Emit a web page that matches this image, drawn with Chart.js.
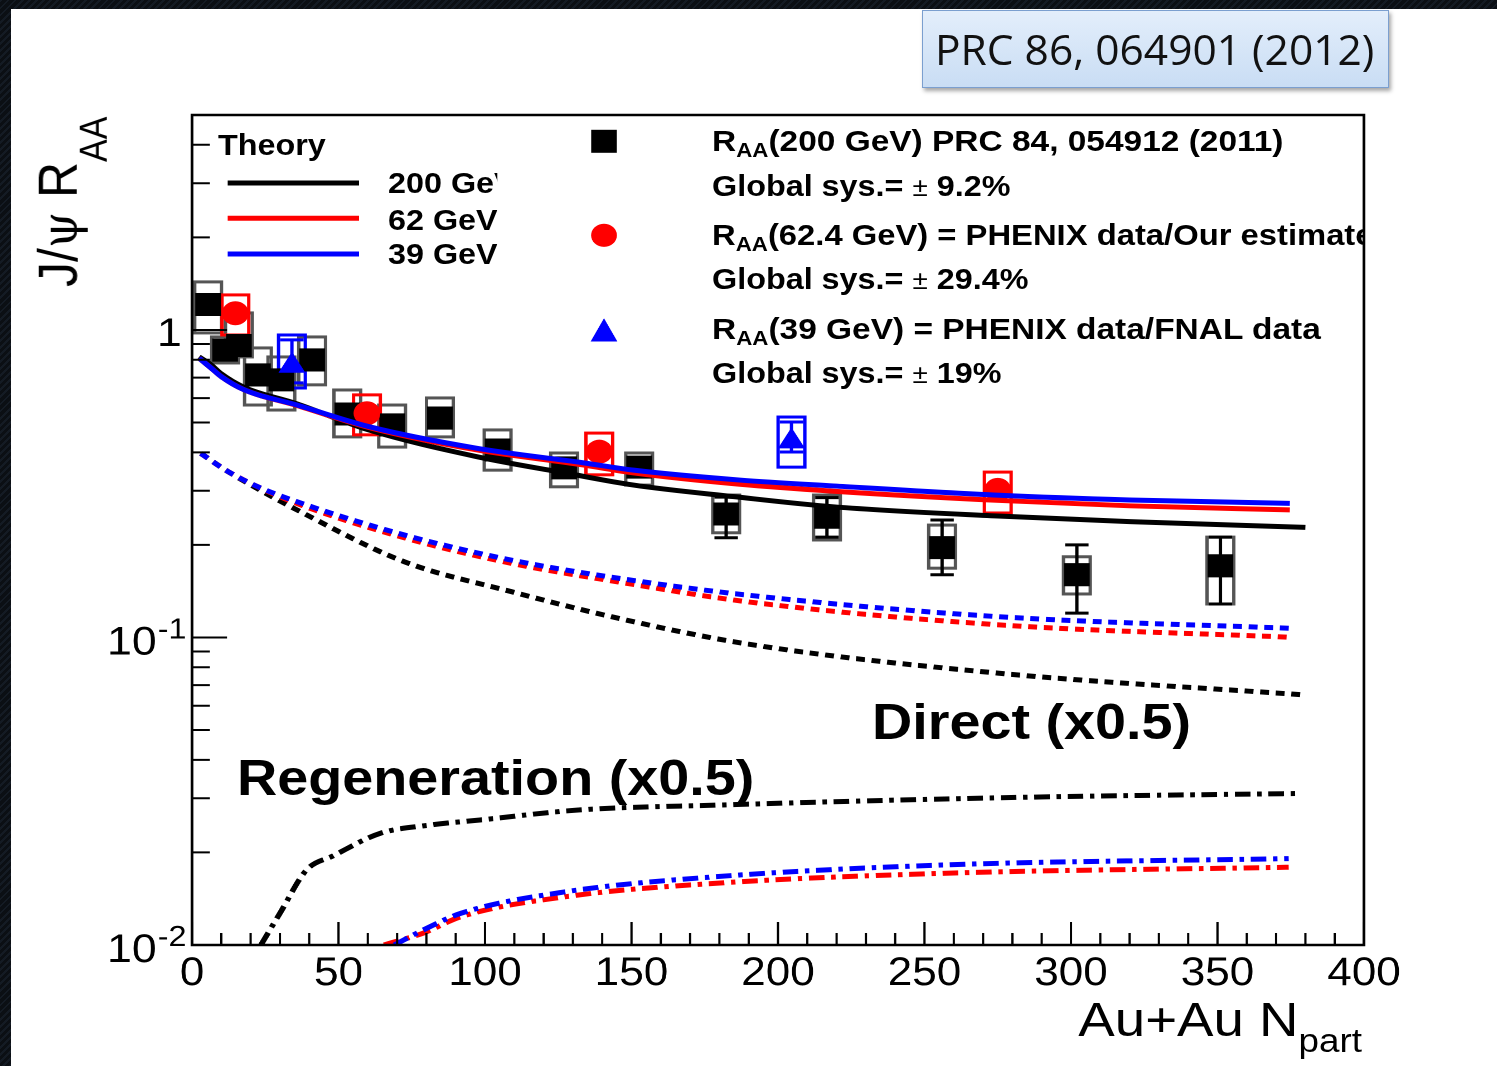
<!DOCTYPE html>
<html><head><meta charset="utf-8">
<script src="https://cdn.jsdelivr.net/npm/chart.js@4.4.1/dist/chart.umd.min.js"></script>
<style>
html,body{margin:0;padding:0;width:1497px;height:1066px;overflow:hidden;
  background:#0e1319 repeating-linear-gradient(135deg,#141b24 0 2px,#0b0f14 2px 5px);}
#panel{position:absolute;left:11px;top:9px;right:0;bottom:0;background:#fff;}
#wrap{position:absolute;left:0;top:0;width:1343px;height:1066px;transform:scaleX(1.115);transform-origin:0 0;}
#c{position:absolute;left:0;top:0;}
.t{position:absolute;white-space:nowrap;font-family:"Liberation Sans",Arial,Helvetica,sans-serif;color:#000;}
.b29{font-weight:bold;font-size:29px;line-height:29px;}
.b30{font-weight:bold;font-size:30px;line-height:29px;}
.sub{position:relative;line-height:0;}
.pm{font-weight:normal;font-size:25px;}
#ref{position:absolute;left:922px;top:10px;width:465px;height:76px;border:1.5px solid #7b9fcf;
  background:linear-gradient(#e3eefb,#c9ddf4);box-shadow:2px 3px 4px rgba(0,0,0,0.35);
  font-family:"Open Sans","Noto Sans",sans-serif;font-size:42.5px;line-height:76px;color:#111;box-sizing:content-box;}
#ref span{position:absolute;left:12px;top:0;}
</style></head>
<body>
<div id="panel"></div>
<div id="wrap">
  <canvas id="c" width="1343" height="1066"></canvas>
  <div class="t b29" style="left:195.5px;top:130.8px;">Theory</div>
  <div style="position:absolute;left:348px;top:0;width:98px;height:300px;overflow:hidden;">
    <div class="t b29" style="left:0;top:168.8px;">200 GeV</div>
    <div class="t b29" style="left:0;top:205.5px;">62 GeV</div>
    <div class="t b29" style="left:0;top:239.8px;">39 GeV</div>
  </div>
  <div style="position:absolute;left:638.6px;top:0;width:585.5px;height:420px;overflow:hidden;">
    <div class="t b30" style="left:0;top:125.5px;">R<span class="sub" style="font-size:20px;top:6px;">AA</span>(200 GeV) PRC 84, 054912 (2011)</div>
    <div class="t b29" style="left:0;top:171.8px;">Global sys.= <span class="pm">±</span> 9.2%</div>
    <div class="t b30" style="left:0;top:219.5px;font-size:29.4px;">R<span class="sub" style="font-size:20px;top:6px;">AA</span>(62.4 GeV) = PHENIX data/Our estimate</div>
    <div class="t b29" style="left:0;top:264.8px;">Global sys.= <span class="pm">±</span> 29.4%</div>
    <div class="t b30" style="left:0;top:313.8px;">R<span class="sub" style="font-size:20px;top:6px;">AA</span>(39 GeV) = PHENIX data/FNAL data</div>
    <div class="t b29" style="left:0;top:359.3px;">Global sys.= <span class="pm">±</span> 19%</div>
  </div>
  <div class="t" style="left:782px;top:698px;font-weight:bold;font-size:50px;line-height:49px;">Direct (x0.5)</div>
  <div class="t" style="left:212.5px;top:753.5px;font-weight:bold;font-size:50px;line-height:49px;">Regeneration (x0.5)</div>
  <div class="t" style="right:121.5px;top:995.2px;font-size:49px;line-height:49px;">Au+Au N<span class="sub" style="font-size:33px;top:16px;">part</span></div>
  <div class="t" style="left:26.7px;top:287px;font-size:50px;line-height:50px;transform-origin:0 0;transform:rotate(-90deg);">J/<span style="font-family:'DejaVu Serif',serif;font-size:46px;">ψ</span> R<span class="sub" style="font-size:34px;top:27px;">AA</span></div>
</div>
<div id="ref"><span>PRC 86, 064901 (2012)</span></div>
<script>
// ---------- data ----------
// PHENIX 200 GeV (black squares)
const npart200 = [5.5, 11.3, 16, 22.5, 30.5, 41, 53, 68.3, 84.6, 104.3, 127, 152.6, 182.3, 216.7, 256, 302, 351];
const raa200   = [1.21, 0.86, 0.89, 0.714, 0.688, 0.799, 0.533, 0.491, 0.517, 0.407, 0.356, 0.358, 0.252, 0.246, 0.196, 0.160, 0.171];
const stat200Lo = [1.16, 0.82, 0.85, 0.68, 0.655, 0.765, 0.51, 0.47, 0.495, 0.39, 0.335, 0.337, 0.211, 0.212, 0.160, 0.120, 0.1285];
const stat200Hi = [1.26, 0.90, 0.93, 0.75, 0.72, 0.835, 0.556, 0.512, 0.54, 0.425, 0.377, 0.379, 0.286, 0.285, 0.241, 0.200, 0.212];
const sys200Lo = [0.978, 0.781, 0.817, 0.570, 0.549, 0.663, 0.449, 0.416, 0.449, 0.350, 0.309, 0.313, 0.219, 0.2075, 0.168, 0.1385, 0.1285];
const sys200Hi = [1.433, 0.949, 1.136, 0.874, 0.817, 0.949, 0.638, 0.570, 0.601, 0.473, 0.398, 0.398, 0.2905, 0.2905, 0.232, 0.183, 0.212];
// 62.4 GeV (red circles)
const npart62 = [14.8, 59.7, 139, 275];
const raa62   = [1.133, 0.536, 0.402, 0.302];
const sys62Lo = [0.963, 0.456, 0.338, 0.254];
const sys62Hi = [1.30, 0.615, 0.462, 0.345];
// 39 GeV (blue triangles)
const npart39 = [34.1, 204.6];
const raa39   = [0.765, 0.434];
const stat39Lo = [0.673, 0.401];
const stat39Hi = [0.928, 0.502];
const sys39Lo = [0.6475, 0.358];
const sys39Hi = [0.963, 0.521];
// Theory total (solid)
const tot200X = [2.4, 6.5, 10, 17.6, 35.8, 60.3, 96.8, 127.9, 150.7, 185, 219, 276, 320, 380];
const tot200Y = [0.817, 0.77, 0.72, 0.652, 0.575, 0.473, 0.388, 0.342, 0.313, 0.287, 0.266, 0.248, 0.238, 0.228];
const tot62X = [2.4, 6.5, 10, 17.6, 35.8, 60.3, 96.8, 133.4, 150.7, 187, 219, 275.5, 320, 374.7];
const tot62Y = [0.81, 0.752, 0.705, 0.64, 0.568, 0.482, 0.408, 0.364, 0.343, 0.315, 0.299, 0.279, 0.268, 0.26];
const tot39X = [2.4, 6.5, 10, 17.6, 35.8, 60.3, 96.8, 133.4, 150.7, 187, 219, 275.5, 320, 374.7];
const tot39Y = [0.81, 0.752, 0.705, 0.64, 0.57, 0.485, 0.413, 0.37, 0.35, 0.325, 0.311, 0.29, 0.28, 0.273];
// Direct (x0.5), dotted
const dir200X = [3, 11.5, 21.2, 35.8, 72.4, 108.9, 145.6, 189.4, 275.5, 380];
const dir200Y = [0.397, 0.35, 0.309, 0.26, 0.1764, 0.141, 0.1154, 0.0953, 0.0765, 0.065];
const dir62X = [3, 11.5, 21.2, 35.8, 72.4, 108.9, 145.6, 189.4, 275.5, 374.7];
const dir62Y = [0.397, 0.35, 0.313, 0.2727, 0.211, 0.1743, 0.1515, 0.1307, 0.1099, 0.1002];
const dir39X = [3, 11.5, 21.2, 35.8, 72.4, 108.9, 145.6, 189.4, 275.5, 374.7];
const dir39Y = [0.397, 0.35, 0.313, 0.2764, 0.2155, 0.1786, 0.1558, 0.1374, 0.1168, 0.1071];
// Regeneration (x0.5), dash-dot
const reg200X = [23.5, 30, 39.1, 48.2, 64.2, 81.2, 98.3, 132.4, 179, 281.8, 378];
const reg200Y = [0.0100, 0.01268, 0.01754, 0.0195, 0.02307, 0.02455, 0.0255, 0.0275, 0.0285, 0.0302, 0.0311];
const reg62X = [65.5, 79, 91.8, 127.6, 179, 256, 374.3];
const reg62Y = [0.0100, 0.01094, 0.01236, 0.01436, 0.01588, 0.0171, 0.0179];
const reg39X = [69, 79, 91.8, 127.6, 179, 256, 374.3];
const reg39Y = [0.0100, 0.0112, 0.01268, 0.0149, 0.01668, 0.0182, 0.0191];
// axis tick labels
const xTickValues = [0, 50, 100, 150, 200, 250, 300, 350, 400];
const xTickLabels = ['0', '50', '100', '150', '200', '250', '300', '350', '400'];
const yTickValues = [0.01, 0.1, 1];
const yTickBase = ['10', '10', '1'];
const yTickExp = ['-2', '-1', ''];

// ---------- helpers ----------
const pts = (xs, ys) => xs.map((x, i) => ({x: x, y: ys[i]}));
const curve = (xs, ys, color, dash) => ({
  data: pts(xs, ys), showLine: true, borderColor: color, borderWidth: 5,
  borderDash: dash, pointRadius: 0, fill: false, cubicInterpolationMode: 'monotone'
});
const DOT = [8, 6], DASHDOT = [14, 6, 4, 6];
const BOX_HALF = 12, CAP_HALF = 10.5;

const overlay = {
  id: 'overlay',
  beforeDatasetsDraw(chart) {
    const {ctx, chartArea: ca} = chart;
    const xs = chart.scales.x, ys = chart.scales.y;
    ctx.save();
    ctx.beginPath(); ctx.rect(ca.left, ca.top, ca.right - ca.left, ca.bottom - ca.top); ctx.clip();
    const boxes = (X, lo, hi, col) => {
      ctx.strokeStyle = col; ctx.lineWidth = 3;
      X.forEach((v, i) => {
        const px = xs.getPixelForValue(v);
        const t = ys.getPixelForValue(hi[i]), b = ys.getPixelForValue(lo[i]);
        ctx.strokeRect(px - BOX_HALF, t, 2 * BOX_HALF, b - t);
      });
    };
    const bars = (X, lo, hi, col) => {
      ctx.strokeStyle = col; ctx.lineWidth = 3;
      X.forEach((v, i) => {
        const px = xs.getPixelForValue(v);
        const t = ys.getPixelForValue(hi[i]), b = ys.getPixelForValue(lo[i]);
        ctx.beginPath();
        ctx.moveTo(px, t); ctx.lineTo(px, b);
        ctx.moveTo(px - CAP_HALF, t); ctx.lineTo(px + CAP_HALF, t);
        ctx.moveTo(px - CAP_HALF, b); ctx.lineTo(px + CAP_HALF, b);
        ctx.stroke();
      });
    };
    boxes(npart200, sys200Lo, sys200Hi, '#555555');
    bars(npart200, stat200Lo, stat200Hi, '#000000');
    boxes(npart62, sys62Lo, sys62Hi, '#ff0000');
    boxes(npart39, sys39Lo, sys39Hi, '#0000ff');
    bars(npart39, stat39Lo, stat39Hi, '#0000ff');
    ctx.restore();
  },
  afterDraw(chart) {
    const {ctx, chartArea: ca} = chart;
    const xs = chart.scales.x, ys = chart.scales.y;
    ctx.save();
    // frame
    ctx.strokeStyle = '#000'; ctx.lineWidth = 2.5;
    ctx.strokeRect(ca.left, ca.top, ca.right - ca.left, ca.bottom - ca.top);
    // x ticks (inside)
    ctx.lineWidth = 2;
    ctx.beginPath();
    for (let v = 0; v <= 400; v += 10) {
      const px = xs.getPixelForValue(v);
      const len = (v % 50 === 0) ? 23 : 12;
      ctx.moveTo(px, ca.bottom); ctx.lineTo(px, ca.bottom - len);
    }
    // y ticks (inside)
    for (let d = 0.01; d < 5; d *= 10) {
      for (let m = 1; m <= 9; m++) {
        const v = d * m;
        if (v > 5.0001) break;
        const py = ys.getPixelForValue(v);
        const len = (m === 1) ? 31.4 : 16;
        ctx.moveTo(ca.left, py); ctx.lineTo(ca.left + len, py);
      }
    }
    ctx.stroke();
    // x tick labels
    ctx.fillStyle = '#000';
    ctx.font = '39.5px "Liberation Sans", Arial, sans-serif';
    ctx.textAlign = 'center'; ctx.textBaseline = 'alphabetic';
    xTickValues.forEach((v, i) => ctx.fillText(xTickLabels[i], xs.getPixelForValue(v), 985));
    // y tick labels
    yTickValues.forEach((v, i) => {
      const py = ys.getPixelForValue(v);
      if (yTickExp[i]) {
        ctx.textAlign = 'right';
        ctx.font = '40px "Liberation Sans", Arial, sans-serif';
        ctx.fillText(yTickBase[i], 140.5, py + 17);
        ctx.textAlign = 'left';
        ctx.font = '29px "Liberation Sans", Arial, sans-serif';
        ctx.fillText(yTickExp[i], 141.5, py + 1);
      } else {
        ctx.textAlign = 'right';
        ctx.font = '40px "Liberation Sans", Arial, sans-serif';
        ctx.fillText(yTickBase[i], 163, py + 16);
      }
    });
    // legend sample lines
    ctx.lineWidth = 5;
    [['#000000', 183], ['#ff0000', 218.3], ['#0000ff', 254]].forEach(([c, y]) => {
      ctx.strokeStyle = c; ctx.beginPath(); ctx.moveTo(204.2, y); ctx.lineTo(322, y); ctx.stroke();
    });
    // legend markers
    const mx = 541.7;
    ctx.fillStyle = '#000'; ctx.fillRect(mx - 11.5, 141.3 - 11.5, 23, 23);
    ctx.fillStyle = '#ff0000'; ctx.beginPath(); ctx.arc(mx, 235.3, 11.6, 0, Math.PI * 2); ctx.fill();
    ctx.fillStyle = '#0000ff'; ctx.beginPath();
    ctx.moveTo(mx, 318.3); ctx.lineTo(mx + 12, 341.5); ctx.lineTo(mx - 12, 341.5); ctx.closePath(); ctx.fill();
    ctx.restore();
  }
};

new Chart(document.getElementById('c'), {
  type: 'scatter',
  data: {
    datasets: [
      curve(tot39X, tot39Y, '#0000ff', []),
      curve(tot62X, tot62Y, '#ff0000', []),
      curve(tot200X, tot200Y, '#000000', []),
      curve(dir39X, dir39Y, '#0000ff', DOT),
      curve(dir62X, dir62Y, '#ff0000', DOT),
      curve(dir200X, dir200Y, '#000000', DOT),
      curve(reg39X, reg39Y, '#0000ff', DASHDOT),
      curve(reg62X, reg62Y, '#ff0000', DASHDOT),
      curve(reg200X, reg200Y, '#000000', DASHDOT),
      {data: pts(npart39, raa39), pointStyle: 'triangle', pointRadius: 14, pointBackgroundColor: '#0000ff', pointBorderWidth: 0, showLine: false},
      {data: pts(npart62, raa62), pointStyle: 'circle', pointRadius: 12, pointBackgroundColor: '#ff0000', pointBorderWidth: 0, showLine: false},
      {data: pts(npart200, raa200), pointStyle: 'rect', pointRadius: 16.3, pointBackgroundColor: '#000000', pointBorderWidth: 0, showLine: false}
    ]
  },
  options: {
    responsive: false, animation: false, devicePixelRatio: 2,
    layout: {padding: {left: 0, right: 119.7, top: 115, bottom: 0}},
    plugins: {legend: {display: false}, tooltip: {enabled: false}},
    events: [],
    scales: {
      x: {type: 'linear', min: 0, max: 400, offset: false,
          ticks: {display: false, stepSize: 50}, grid: {display: false}, border: {display: false},
          afterFit: s => { s.height = 121; }},
      y: {type: 'logarithmic', min: 0.01, max: 5,
          ticks: {display: false}, grid: {display: false}, border: {display: false},
          afterFit: s => { s.width = 172.2; }}
    }
  },
  plugins: [overlay]
});
</script>
</body></html>
